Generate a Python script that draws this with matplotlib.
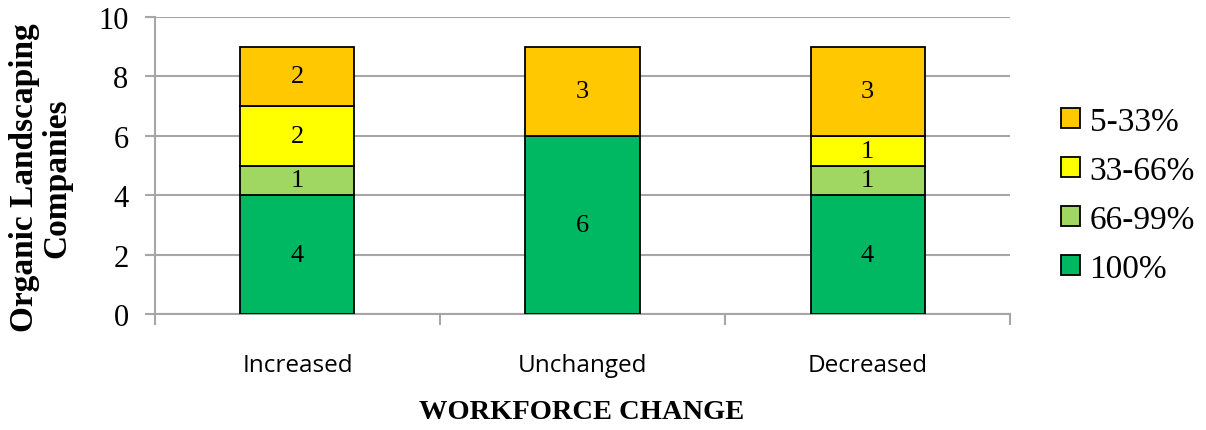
#!/usr/bin/env python3
"""Stacked bar chart of organic landscaping companies by workforce change."""

import matplotlib
import matplotlib.pyplot as plt

matplotlib.use("Agg")

CATEGORIES = ["Increased", "Unchanged", "Decreased"]
SERIES = ["100%", "66-99%", "33-66%", "5-33%"]
VAL_100 = [4, 6, 4]
VAL_66_99 = [1, 0, 1]
VAL_33_66 = [2, 0, 1]
VAL_5_33 = [2, 3, 3]
COLORS = ["#00B862", "#A0D662", "#FFFF00", "#FFC800"]

SERIF = "Liberation Serif"
SANS = "Open Sans"
GRID = "#A6A6A6"

fig = plt.figure(figsize=(12.06, 4.31), dpi=100)
ax = fig.add_axes([0.1285, 0.269, 0.709, 0.689])

x = list(range(len(CATEGORIES)))
bottoms = [0] * len(CATEGORIES)
handles = []
for name, vals, col in zip(SERIES, [VAL_100, VAL_66_99, VAL_33_66, VAL_5_33], COLORS):
    bars = ax.bar(x, vals, width=0.4, bottom=bottoms, color=col,
                  edgecolor="black", linewidth=1.3, zorder=3, label=name)
    handles.append(bars)
    for xi, v, b in zip(x, vals, bottoms):
        if v:
            ax.text(xi, b + v / 2, str(v), ha="center", va="center",
                    fontsize=19, family=SERIF, zorder=4)
    bottoms = [b + v for b, v in zip(bottoms, vals)]

ax.set_xlim(-0.5, 2.5)
ax.set_ylim(0, 10)
ax.set_yticks(range(0, 11, 2))
ax.set_yticklabels([str(v) for v in range(0, 11, 2)], family=SERIF, fontsize=22)
ax.yaxis.grid(True, color=GRID, linewidth=1.5, zorder=0)
ax.tick_params(axis="y", length=7, width=1.5, color=GRID, pad=12)

# category labels sit between the boundary ticks
ax.set_xticks([-0.5, 0.5, 1.5, 2.5])
ax.set_xticklabels([])
ax.tick_params(axis="x", length=8, width=1.5, color=GRID)
for xi, cat in zip(x, CATEGORIES):
    ax.text(xi, -1.72, cat, ha="center", va="center", fontsize=17.5, family=SANS,
            clip_on=False)

for side in ["top", "right"]:
    ax.spines[side].set_visible(False)
for side in ["left", "bottom"]:
    ax.spines[side].set_color(GRID)
    ax.spines[side].set_linewidth(1.5)

fig.text(0.034, 0.587, "Organic Landscaping\nCompanies", rotation=90,
         ha="center", va="center", multialignment="center", family=SERIF,
         fontweight="bold", fontsize=24, linespacing=1.05)
fig.text(0.4825, 0.044, "WORKFORCE CHANGE", ha="center", va="center",
         family=SERIF, fontweight="bold", fontsize=20.5)

leg = fig.legend(handles[::-1], SERIES[::-1], loc="center left",
                 bbox_to_anchor=(0.880, 0.545), frameon=False,
                 prop={"family": SERIF, "size": 24}, handlelength=0.55,
                 handleheight=0.55, handletextpad=0.3, labelspacing=0.55,
                 borderaxespad=0, borderpad=0)

plt.savefig("out.png", dpi=100)
plt.close()
